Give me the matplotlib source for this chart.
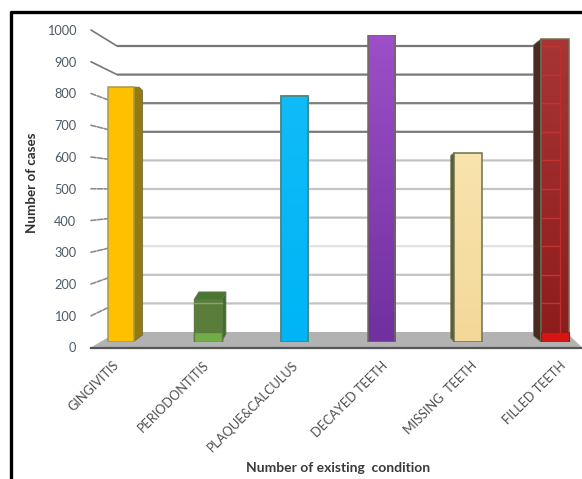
import matplotlib
matplotlib.use('Agg')
import matplotlib.pyplot as plt
import numpy as np
from matplotlib.patches import ConnectionPatch, Polygon
from matplotlib.transforms import blended_transform_factory

plt.rcParams['font.family'] = ['Lato', 'DejaVu Sans']

conditions = ['GINGIVITIS', 'PERIODONTITIS', 'PLAQUE&CALCULUS',
              'DECAYED TEETH', 'MISSING  TEETH', 'FILLED TEETH']
cases = [830, 137, 800, 1000, 617, 987]
y_ticks = [0, 100, 200, 300, 400, 500, 600, 700, 800, 900, 1000]
grid_colors = ['#b5b5b5', '#c4c4c4', '#c4c4c4', '#e2e2e2', '#bdbdbd', '#c4c4c4',
               '#c4c4c4', '#7a7a7a', '#7f7f7f', '#777777', '#777777']

W, H = 582, 479
fig = plt.figure(figsize=(W / 100, H / 100), dpi=100)


def axes_px(x0, y0, x1, y1, **kw):
    # axes placed by pixel box, y counted from the top
    a = fig.add_axes([x0 / W, 1 - y1 / H, (x1 - x0) / W, (y1 - y0) / H], **kw)
    a.patch.set_alpha(0)
    return a


# background: frame and chart floor, in pixel units
bg = axes_px(0, 0, W, H)
bg.set_xlim(0, W)
bg.set_ylim(H, 0)
bg.axis('off')
bg.plot([10.5, 10.5, W], [H, 11.5, 11.5], color='black', lw=2.4, solid_capstyle='butt')
bg.add_patch(Polygon([(91, 347.5), (117, 332), (566, 332), (582, 347.5)], color='#b2b2b2', lw=0))
bg.plot([91, W], [347.5, 347.5], color='#555555', lw=1.6)

# back wall with the gridlines
wall = axes_px(117, 46, 566, 332)
wall.set_xlim(0, 1)
wall.set_ylim(0, 1000)
wall.axis('off')
for v, c in zip(y_ticks[1:], grid_colors[1:]):
    wall.plot([0, 1], [v, v], color=c, lw=1.6, solid_capstyle='butt', snap=False, clip_on=False)

x = np.arange(len(conditions))

# front plane: value labels and category labels, slightly wider spaced than the bars
front = axes_px(91, 30, W, 347.5)
front_left = (91 - 113) / 89.4
front.set_xlim(front_left, (W - 113) / 89.4)
front.set_ylim(0, 1000)
for s in front.spines.values():
    s.set_visible(False)
front.set_yticks(y_ticks)
front.tick_params(axis='y', length=0, pad=10.5, labelsize=9.2, labelcolor='#4d5a68')
front.set_xticks(x)
front.set_xticklabels(conditions, rotation=45, ha='right', rotation_mode='anchor')
front.tick_params(axis='x', length=0, pad=8.3, labelsize=9.2, labelcolor='#505050')
for v, c in zip(y_ticks[1:], grid_colors[1:]):
    wall.add_artist(ConnectionPatch(xyA=(front_left, v), coordsA=front.transData,
                                    xyB=(0, v), coordsB=wall.transData,
                                    color=c if v >= 900 else '#8c8c8c', lw=1.2,
                                    ls='-' if v >= 900 else (0, (3, 1))))

# bar plane, sits between the front edge and the wall
ax = axes_px(91, 35, W, 342)
ax.set_zorder(3)
ax.set_xlim((91 - 121) / 86.8, (W - 121) / 86.8)
ax.set_ylim(0, 1000)
ax.axis('off')
dx = 1 / 86.8
dy = 1000 / 307
bar_w = 0.32
floor_level = 33
edge = '#6d6d52'


def side(i, pts, color):
    # pts are pixel offsets from the bar's front left corner, third item is the value they hang from
    ax.add_patch(Polygon([(x[i] - bar_w / 2 + px * dx, base + py * dy) for px, py, base in pts],
                         facecolor=color, edgecolor=edge, lw=0.6, zorder=2))


def gradient(i, rgb_top, rgb_bottom):
    # vertical colour ramp clipped to the bar
    bar = ax.bar(x[i], cases[i], bar_w, color='none', edgecolor=edge, lw=1.1, zorder=4)[0]
    ramp = np.linspace(0, 1, 64)[:, None, None]
    img = (1 - ramp) * np.array(rgb_top)[None, None, :] + ramp * np.array(rgb_bottom)[None, None, :]
    im = ax.imshow(img, extent=(x[i] - bar_w / 2, x[i] + bar_w / 2, 0, cases[i]),
                   aspect='auto', zorder=3)
    im.set_clip_path(bar)
    return bar


def rgb(h):
    return matplotlib.colors.to_rgb(h)


# GINGIVITIS
v = cases[0]
w_px = 26
side(0, [(w_px, 0, v), (w_px + 6, 0, v), (w_px + 9.5, -3.5, v), (w_px + 9.5, 7, 0), (w_px, 0, 0)], '#967a0c')
ax.bar(x[0], v, 26 * dx, color='#ffc000', edgecolor='#a39a55', lw=1.1, zorder=4)

# PERIODONTITIS
v = cases[1]
side(1, [(27.5, 0, v), (32, 8, v), (32, 8, 0), (27.5, 0, 0)], '#3f6b2c')
side(1, [(0, 0, v), (5, 8, v), (32, 8, v), (27.5, 0, v)], '#47762f')
ax.bar(x[1], v, bar_w, color='#5a7d3c', edgecolor='#5b7a42', lw=1, zorder=4)
ax.bar(x[1], floor_level, bar_w, color='#70ad47', edgecolor='#5b7a42', lw=1, zorder=5)
ax.plot([x[1] - bar_w / 2, x[1] + bar_w / 2], [v - 10, v - 10], color='#7fa860', lw=1, zorder=5)

# PLAQUE&CALCULUS
gradient(2, rgb('#10bcf8'), rgb('#00b4f5'))
ax.bar(x[2], cases[2], bar_w, color='none', edgecolor='#3f8f92', lw=1.1, zorder=5)

# DECAYED TEETH
gradient(3, rgb('#9c4fc8'), rgb('#7030a0'))

# MISSING TEETH
v = cases[4]
side(4, [(0, 0, v), (-3.5, -3, v), (-3.5, 4, 0), (0, 0, 0)], '#55602c')
gradient(4, rgb('#f9e4ad'), rgb('#f3d899'))

# FILLED TEETH
v = cases[5]
side(5, [(0, 0, v), (-7.5, -6, v), (-7.5, 6, 0), (0, 0, 0)], '#4b2a22')
gradient(5, rgb('#a83535'), rgb('#8e1c1c'))
ax.bar(x[5], floor_level, bar_w, color='#d81515', edgecolor='#8e1c1c', lw=0.8, zorder=5)
# wall lines seen through the bar
through = blended_transform_factory(ax.transData, wall.transData)
ax.hlines(y_ticks[1:], x[5] - bar_w / 2, x[5] + 0.06, colors='#c23535', lw=1, transform=through, zorder=5)
ax.plot([x[5] + 0.06] * 2, [floor_level, 966], color='#b93030', lw=0.9, zorder=5)

# axis titles
fig.text(338 / W, 1 - 468 / H, 'Number of existing  condition', ha='center', va='center',
         fontsize=10, fontweight='bold', color='#3a3a3a')
fig.text(32 / W, 1 - 183 / H, 'Number of cases', rotation=90, ha='center', va='center',
         fontsize=9.6, fontweight='bold', color='#2f2f2f')

fig.savefig('out.png', dpi=100)
